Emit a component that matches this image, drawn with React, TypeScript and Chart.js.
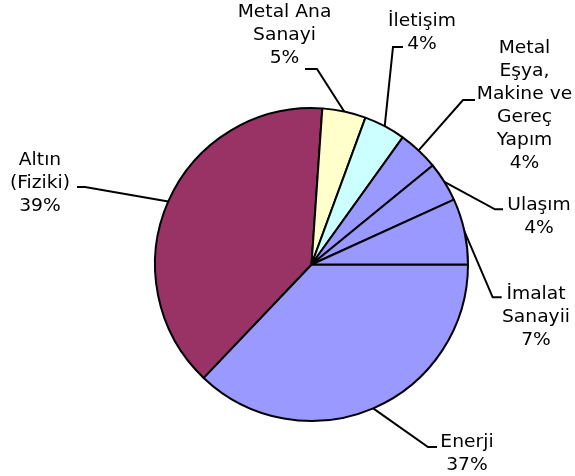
import React, { useEffect, useRef } from "react";
import { Chart, registerables } from "chart.js";

Chart.register(...registerables);

// Data (clockwise from 3 o'clock)
const categories: string[] = [
  "Enerji",
  "Altın\n(Fiziki)",
  "Metal Ana\nSanayi",
  "İletişim",
  "Metal\nEşya,\nMakine ve\nGereç\nYapım",
  "Ulaşım",
  "İmalat\nSanayii",
];
const values: number[] = [37.1, 39.0, 4.5, 4.3, 4.2, 4.1, 6.8];
const sliceColors: string[] = [
  "#9999FF",
  "#993366",
  "#FFFFCC",
  "#CCFFFF",
  "#9999FF",
  "#9999FF",
  "#9999FF",
];

// Label placement relative to the pie centre (elbow of the leader, horizontal
// segment length, text centre x and first baseline y)
const labelLayout = [
  { ex: 116.5, ey: 182.5, seg: 9, tx: 155.5, ty: 182.5 },
  { ex: -226.5, ey: -77.5, seg: -8, tx: -271.5, ty: -99.5 },
  { ex: 5.5, ey: -195.5, seg: -12, tx: -27, ty: -247.2 },
  { ex: 81.5, ey: -217.5, seg: 10, tx: 110.5, ty: -239 },
  { ex: 151.5, ey: -164.5, seg: 12, tx: 213, ty: -211.8 },
  { ex: 183.5, ey: -55.2, seg: 8, tx: 227.5, ty: -55 },
  { ex: 181.2, ey: 32.8, seg: 9, tx: 224.5, ty: 34.8 },
];

const FONT_SIZE = 17;
const LINE_H = 23;
const X_SCALE = 1.1;

const pieLabels = {
  id: "pieLabels",
  afterDatasetsDraw(chart: any) {
    const ctx = chart.ctx as CanvasRenderingContext2D;
    const meta = chart.getDatasetMeta(0);
    const total = values.reduce((a, b) => a + b, 0);
    meta.data.forEach((arc: any, i: number) => {
      const p = arc.getProps(["x", "y", "startAngle", "endAngle", "outerRadius"], true);
      const mid = (p.startAngle + p.endAngle) / 2;
      const ax = p.x + Math.cos(mid) * p.outerRadius;
      const ay = p.y + Math.sin(mid) * p.outerRadius;
      const L = labelLayout[i];
      const ex = p.x + L.ex;
      const ey = p.y + L.ey;
      ctx.save();
      ctx.strokeStyle = "#000";
      ctx.lineWidth = 2;
      ctx.lineJoin = "miter";
      ctx.beginPath();
      ctx.moveTo(ax, ay);
      ctx.lineTo(ex, ey);
      ctx.lineTo(ex + L.seg, ey);
      ctx.stroke();

      const pct = Math.round(Math.round((values[i] / total) * 1e6) / 1e4);
      const lines = categories[i].split("\n").concat([pct + "%"]);
      ctx.fillStyle = "#000";
      ctx.font = `${FONT_SIZE}px "DejaVu Sans", Verdana, sans-serif`;
      ctx.textAlign = "center";
      ctx.textBaseline = "alphabetic";
      const cx = p.x + L.tx;
      lines.forEach((t, k) => {
        const by = p.y + L.ty + k * LINE_H;
        ctx.save();
        ctx.translate(cx, by);
        ctx.scale(X_SCALE, 1);
        ctx.fillText(t, 0, 0);
        ctx.restore();
      });
      ctx.restore();
    });
  },
};

export default function App() {
  const ref = useRef<HTMLCanvasElement | null>(null);
  useEffect(() => {
    if (!ref.current) return;
    const chart = new Chart(ref.current, {
      type: "pie",
      data: {
        labels: categories.map((c) => c.replace(/\n/g, " ")),
        datasets: [
          {
            data: values,
            backgroundColor: sliceColors,
            borderColor: "#000000",
            borderWidth: 2,
          },
        ],
      },
      options: {
        responsive: false,
        animation: false,
        events: [],
        rotation: 90,
        layout: {
          padding: { left: 154, right: 106, top: 107, bottom: 54 },
        },
        plugins: {
          legend: { display: false },
          tooltip: { enabled: false },
        },
      },
      plugins: [pieLabels],
    });
    return () => chart.destroy();
  }, []);
  return (
    <div style={{ position: "absolute", left: 0, top: 0, width: 575, height: 476, background: "#fff" }}>
      <canvas ref={ref} width={575} height={476} />
    </div>
  );
}
